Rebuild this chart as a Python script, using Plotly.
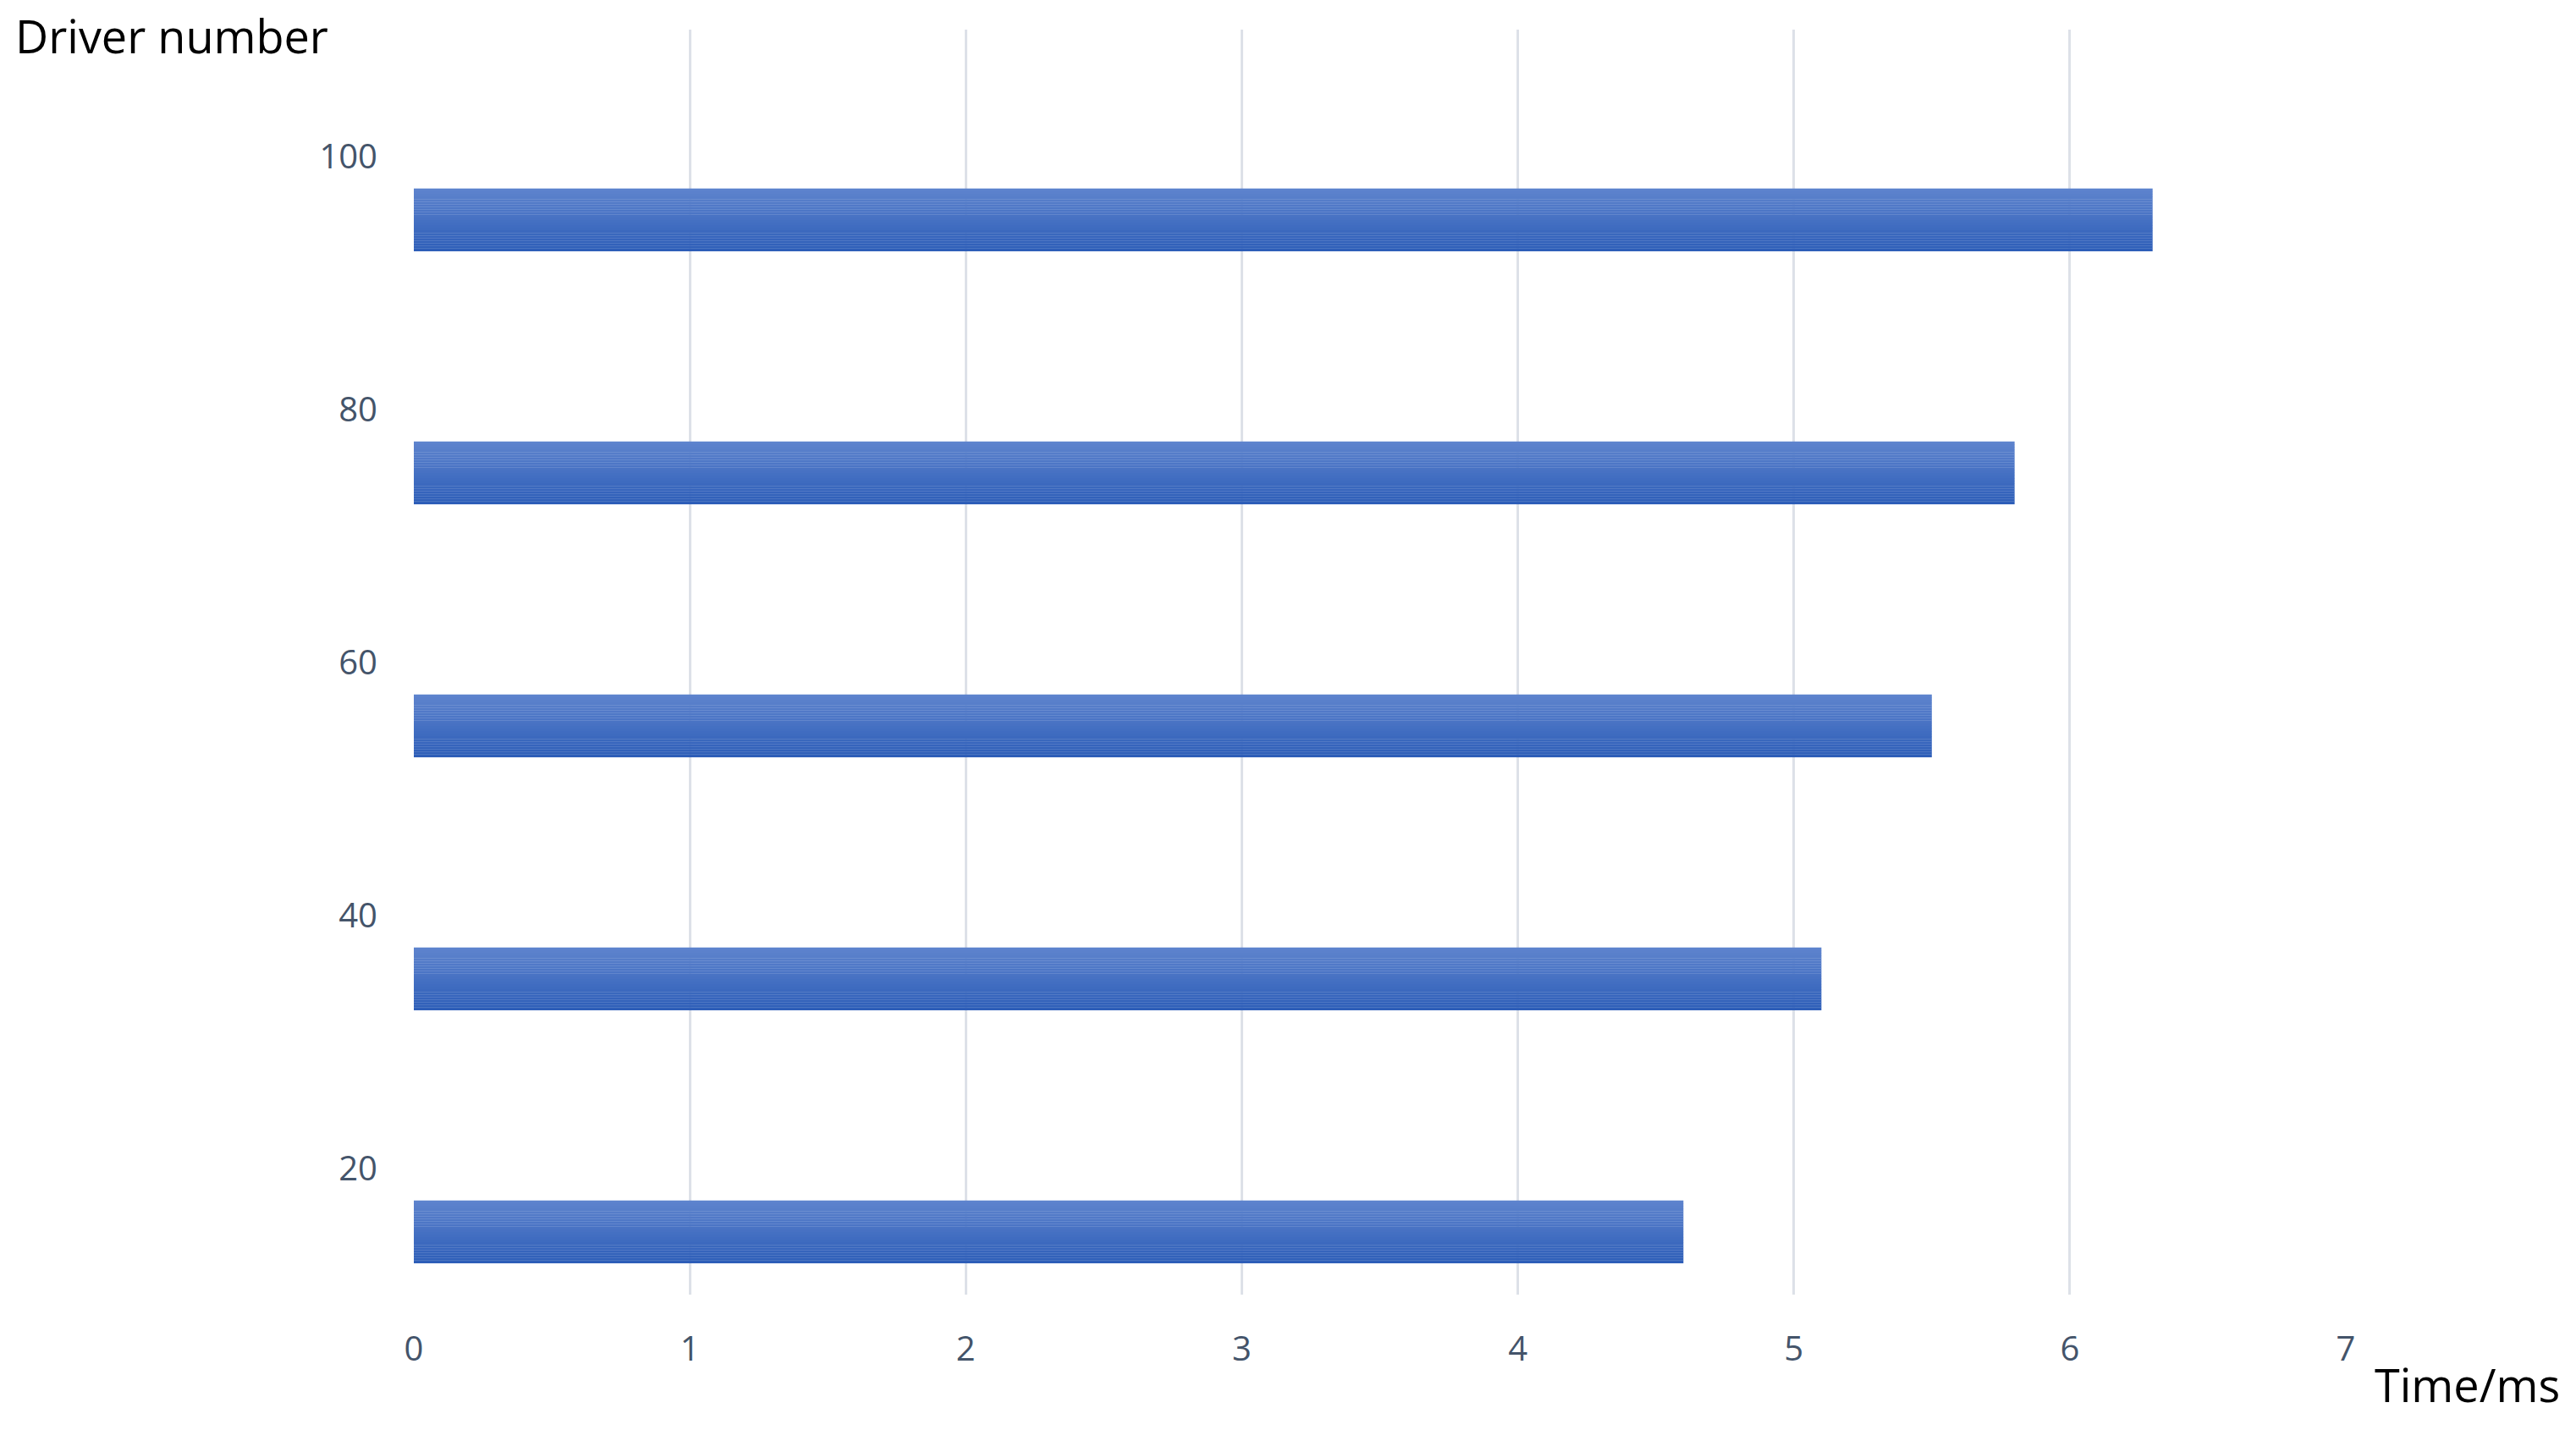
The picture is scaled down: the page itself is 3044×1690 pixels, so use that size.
import plotly.graph_objects as go

categories = ["20", "40", "60", "80", "100"]
times_ms = [4.6, 5.1, 5.5, 5.8, 6.3]
x_ticks = [0, 1, 2, 3, 4, 5, 6, 7]

TOP_RGB = (93, 131, 205)
BOTTOM_RGB = (46, 94, 184)
STRIPES = 24
BAR_WIDTH = 0.247
BAR_OFFSET = -0.376

TICK_FONT = dict(family="Open Sans", size=40, color="#44546A")
TITLE_FONT = dict(family="Open Sans", size=54, color="#000000")

PLOT_W = 3044 - 481 - 280


def blend(t):
    return "rgb({},{},{})".format(
        *[round(b + (a - b) * t) for a, b in zip(TOP_RGB, BOTTOM_RGB)]
    )


fig = go.Figure()

# the bars carry a vertical gradient: draw them as thin stacked stripes
stripe_w = BAR_WIDTH / STRIPES
for i in range(STRIPES):
    fig.add_trace(
        go.Bar(
            x=times_ms,
            y=categories,
            orientation="h",
            width=stripe_w * 1.08,
            offset=BAR_OFFSET + i * stripe_w,
            marker=dict(color=blend(i / (STRIPES - 1)), line=dict(width=0)),
            showlegend=False,
            hoverinfo="skip" if i else "x+y",
        )
    )

fig.update_layout(
    width=3044,
    height=1690,
    barmode="overlay",
    plot_bgcolor="white",
    paper_bgcolor="white",
    margin=dict(l=481, r=280, t=27, b=168),
    xaxis=dict(
        range=[0, 7],
        tickvals=x_ticks,
        showgrid=True,
        gridcolor="#DDE1E8",
        gridwidth=2.5,
        zeroline=False,
        showline=False,
        ticks="",
        tickfont=TICK_FONT,
        ticklabelstandoff=37,
    ),
    yaxis=dict(
        type="category",
        categoryorder="array",
        categoryarray=categories,
        range=[-0.5, 4.5],
        showgrid=False,
        zeroline=False,
        showline=False,
        ticks="",
        tickfont=TICK_FONT,
        ticklabelstandoff=42,
    ),
    annotations=[
        dict(
            text="Driver number",
            xref="paper",
            yref="paper",
            x=(8 - 481) / PLOT_W,
            y=1.0,
            xanchor="left",
            yanchor="middle",
            yshift=-7,
            showarrow=False,
            font=TITLE_FONT,
        ),
        dict(
            text="Time/ms",
            xref="paper",
            yref="paper",
            x=1.0,
            y=0.0,
            xanchor="left",
            yanchor="middle",
            xshift=32,
            yshift=-106,
            showarrow=False,
            font=TITLE_FONT,
        ),
    ],
)

fig.write_html("out.html")
